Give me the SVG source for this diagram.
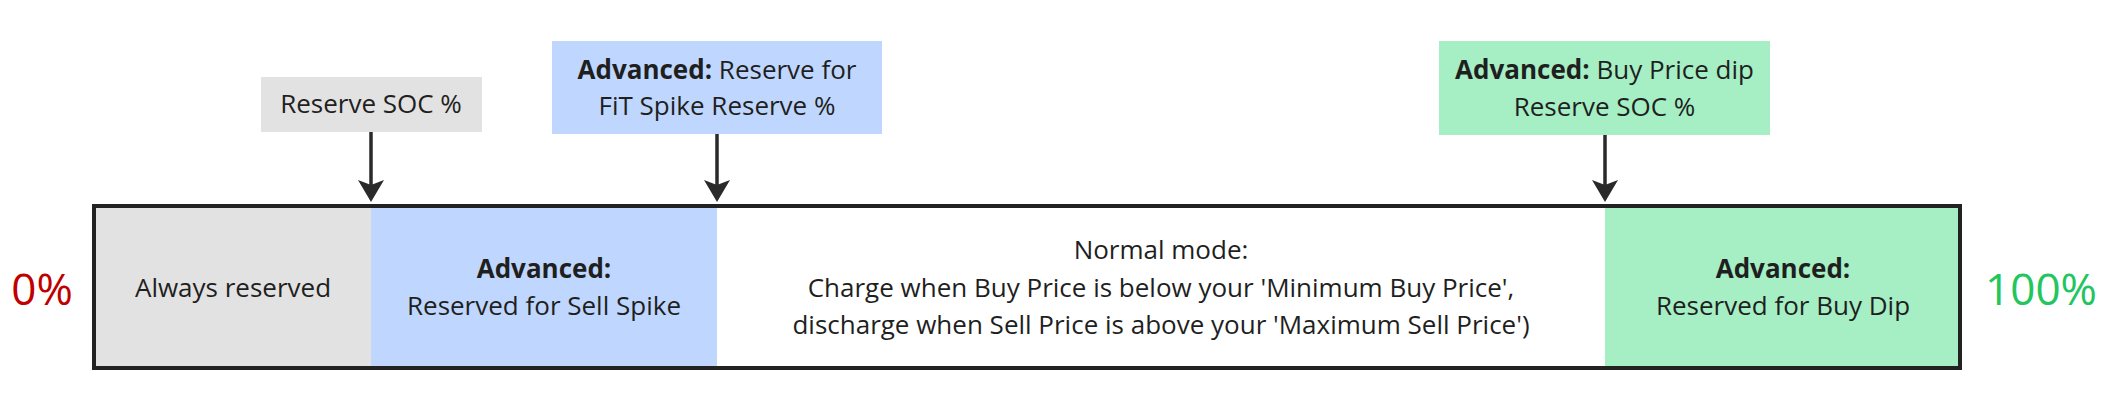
<svg xmlns="http://www.w3.org/2000/svg" width="2112" height="414" viewBox="0 0 2112 414">
  <style>
    text { font-family: "Open Sans", "Noto Sans", "Liberation Sans", sans-serif; font-size: 26px; fill: #1f1f1f; text-anchor: middle; }
    .b { font-weight: 700; }
    .pct { font-size: 44px; }
    .gray { fill: #e2e2e2; }
    .blue { fill: #bfd7fe; }
    .green { fill: #a6efc5; }
    .white { fill: #ffffff; }
    .conn { stroke: #2a2a2a; stroke-width: 3.5; fill: none; }
  </style>
  <defs>
    <marker id="arrow" viewBox="0 0 22 26" refX="12" refY="13" markerWidth="22" markerHeight="26" markerUnits="userSpaceOnUse" orient="auto">
      <path d="M0,0 L22,13 L0,26 L5,13 Z" fill="#2a2a2a"/>
    </marker>
  </defs>
  <rect width="2112" height="414" fill="#ffffff"/>

  <g id="label-0">
    <text class="pct" x="42" y="305" style="fill:#c00000">0%</text>
  </g>
  <g id="label-100">
    <text class="pct" x="2041" y="305" style="fill:#22c55e">100%</text>
  </g>

  <g id="battery">
    <g id="seg-always">
      <rect class="gray" x="94" y="206" width="277" height="162"/>
      <text x="233" y="297">Always reserved</text>
    </g>
    <g id="seg-sell-spike">
      <rect class="blue" x="371" y="206" width="346" height="162"/>
      <text x="544" y="278" class="b">Advanced:</text>
      <text x="544" y="315">Reserved for Sell Spike</text>
    </g>
    <g id="seg-normal">
      <rect class="white" x="717" y="206" width="888" height="162"/>
      <text x="1161" y="259">Normal mode:</text>
      <text x="1161" y="297">Charge when Buy Price is below your 'Minimum Buy Price',</text>
      <text x="1161" y="334">discharge when Sell Price is above your 'Maximum Sell Price')</text>
    </g>
    <g id="seg-buy-dip">
      <rect class="green" x="1605" y="206" width="355" height="162"/>
      <text x="1783" y="278" class="b">Advanced:</text>
      <text x="1783" y="315">Reserved for Buy Dip</text>
    </g>
    <rect x="94" y="206" width="1866" height="162" fill="none" stroke="#222222" stroke-width="4"/>
  </g>

  <g id="box-reserve-soc">
    <rect class="gray" x="261" y="77" width="221" height="55"/>
    <text x="371" y="113">Reserve SOC %</text>
  </g>
  <g id="box-fit-spike">
    <rect class="blue" x="552" y="41" width="330" height="93"/>
    <text x="717" y="79"><tspan class="b">Advanced:</tspan> Reserve for</text>
    <text x="717" y="115">FiT Spike Reserve %</text>
  </g>
  <g id="box-buy-dip">
    <rect class="green" x="1439" y="41" width="331" height="94"/>
    <text x="1604.5" y="79"><tspan class="b">Advanced:</tspan> Buy Price dip</text>
    <text x="1604.5" y="116">Reserve SOC %</text>
  </g>

  <g id="connectors">
    <line class="conn" x1="371" y1="132" x2="371" y2="192" marker-end="url(#arrow)"/>
    <line class="conn" x1="717" y1="134" x2="717" y2="192" marker-end="url(#arrow)"/>
    <line class="conn" x1="1605" y1="135" x2="1605" y2="192" marker-end="url(#arrow)"/>
  </g>
</svg>
